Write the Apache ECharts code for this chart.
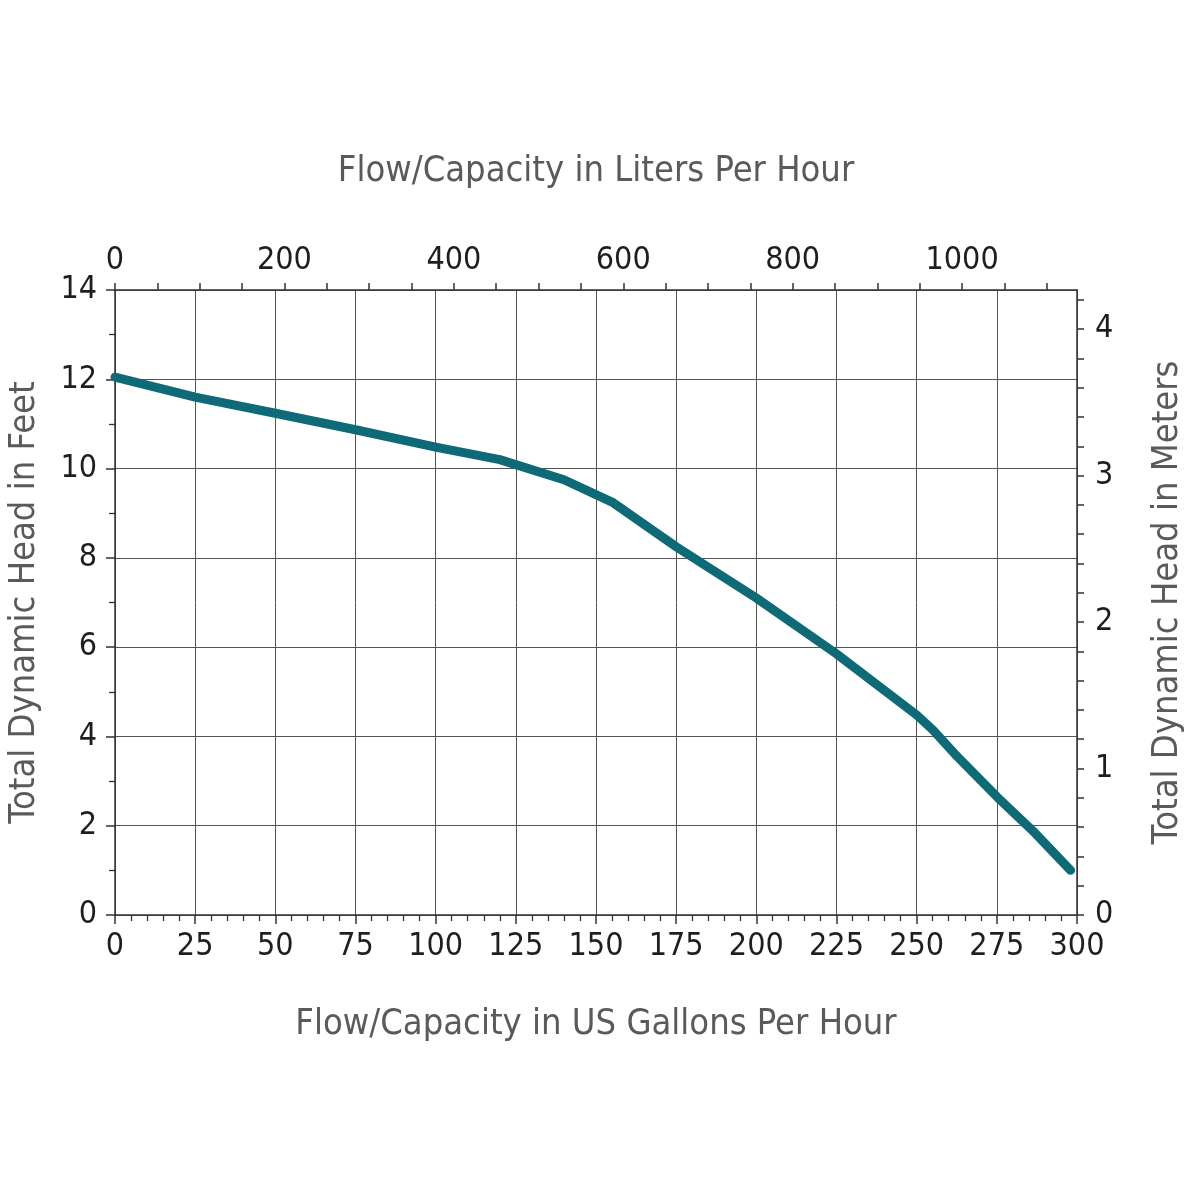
<!DOCTYPE html>
<html><head><meta charset="utf-8">
<script src="https://cdn.jsdelivr.net/npm/echarts@6/dist/echarts.min.js"></script>
<style>html,body{margin:0;padding:0;background:#fff}#c{width:1200px;height:1200px}</style>
</head><body><div id="c"></div>
<script>
// Flow in US gallons per hour and head in feet
const flowGph = [0, 25, 50, 75, 100, 120, 140, 155, 175, 200, 225, 250, 255, 262, 275, 287, 298];
const headFt  = [12.05, 11.6, 11.24, 10.87, 10.48, 10.2, 9.75, 9.25, 8.25, 7.1, 5.85, 4.48, 4.15, 3.6, 2.65, 1.83, 1.0];
const litersLabels = [0, 200, 400, 600, 800, 1000];
const meterLabels = [0, 1, 2, 3, 4];
const GAL_TO_L = 3.78541, FT_TO_M = 0.3048;
const X_MAX = 300, Y_MAX = 14;

const FONT = '"Liberation Sans Narrow","DejaVu Sans Condensed","Liberation Sans",sans-serif';
const tickLbl = {color:'#1e1e1e', fontFamily:FONT, fontSize:32};
const nameSty = {color:'#5a5a5a', fontFamily:FONT, fontSize:36};
const axLine = {show:true, onZero:false, lineStyle:{color:'#333', width:1.5}};
const tickSty = {color:'#333', width:1.5};
const pickLabel = (list) => (v) => {
  const hit = list.find(l => Math.abs(l - v) < 1e-6);
  return hit === undefined ? '' : String(hit);
};

const chart = echarts.init(document.getElementById('c'), null, {renderer:'canvas'});
chart.setOption({
  animation:false,
  backgroundColor:'#fff',
  grid:{left:115, right:123, top:290, bottom:285, containLabel:false, outerBoundsMode:'none'},
  xAxis:[
    {type:'value', position:'bottom', min:0, max:X_MAX, interval:25,
     name:'Flow/Capacity in US Gallons Per Hour', nameLocation:'middle', nameGap:92, nameMoveOverlap:false, nameTextStyle:nameSty,
     axisLine:axLine,
     axisTick:{show:true, length:9, lineStyle:tickSty},
     minorTick:{show:true, splitNumber:5, length:6, lineStyle:{color:'#333', width:1.3}},
     axisLabel:{...tickLbl, margin:16, formatter:(v)=>String(v)},
     splitLine:{show:true, lineStyle:{color:'#555', width:1}}},
    {type:'value', position:'top', min:0, max:X_MAX*GAL_TO_L, interval:50,
     name:'Flow/Capacity in Liters Per Hour', nameLocation:'middle', nameGap:100, nameMoveOverlap:false, nameTextStyle:nameSty,
     axisLine:axLine,
     axisTick:{show:true, length:7, lineStyle:tickSty},
     axisLabel:{...tickLbl, margin:13, formatter:pickLabel(litersLabels), showMaxLabel:false, hideOverlap:false},
     splitLine:{show:false}}
  ],
  yAxis:[
    {type:'value', position:'left', min:0, max:Y_MAX, interval:2,
     name:'Total Dynamic Head in Feet', nameLocation:'middle', nameGap:72, nameMoveOverlap:false, nameTextStyle:nameSty,
     axisLine:axLine,
     axisTick:{show:true, length:9, lineStyle:tickSty},
     minorTick:{show:true, splitNumber:2, length:6, lineStyle:{color:'#333', width:1.3}},
     axisLabel:{...tickLbl, margin:18, formatter:(v)=>String(v)},
     splitLine:{show:true, lineStyle:{color:'#555', width:1}}},
    {type:'value', position:'right', min:0, max:Y_MAX*FT_TO_M, interval:0.2,
     name:'Total Dynamic Head in Meters', nameLocation:'middle', nameGap:73, nameRotate:90, nameMoveOverlap:false, nameTextStyle:nameSty,
     axisLine:axLine,
     axisTick:{show:true, length:7, lineStyle:tickSty},
     axisLabel:{...tickLbl, margin:18, formatter:pickLabel(meterLabels), showMaxLabel:false, hideOverlap:false},
     splitLine:{show:false}}
  ],
  series:[{
    type:'line', xAxisIndex:0, yAxisIndex:0,
    data: flowGph.map((g,i)=>[g, headFt[i]]),
    showSymbol:false, symbol:'none', smooth:false,
    lineStyle:{color:'#0e6a77', width:9, cap:'round', join:'round'}
  }]
});
</script></body></html>
